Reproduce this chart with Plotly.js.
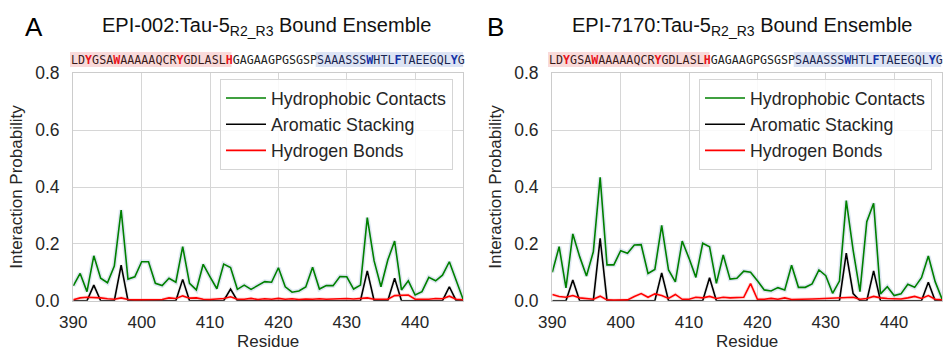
<!DOCTYPE html>
<html>
<head>
<meta charset="utf-8">
<script src="https://cdn.plot.ly/plotly-3.0.1.min.js"></script>
<style>html,body{margin:0;padding:0;background:#fff;}#chart{width:943px;height:351px;}</style>
</head>
<body>
<div id="chart"></div>
<script>
// ---------- data ----------
const residues = [390,391,392,393,394,395,396,397,398,399,400,401,402,403,404,405,406,407,408,409,
  410,411,412,413,414,415,416,417,418,419,420,421,422,423,424,425,426,427,428,429,
  430,431,432,433,434,435,436,437,438,439,440,441,442,443,444,445,446,447];

// Panel A: EPI-002
const hydroA = [0.052,0.096,0.032,0.158,0.079,0.063,0.122,0.319,0.076,0.084,0.137,0.137,0.061,0.053,0.079,0.065,0.190,0.061,0.038,0.128,
  0.084,0.042,0.129,0.117,0.040,0.055,0.040,0.055,0.067,0.065,0.116,0.049,0.030,0.034,0.048,0.118,0.041,0.053,0.053,0.085,
  0.084,0.041,0.055,0.292,0.140,0.049,0.143,0.210,0.038,0.070,0.020,0.032,0.082,0.070,0.090,0.137,0.073,0.006];
const aromA = [0,0,0,0.055,0,0,0,0.125,0,0,0,0,0,0,0,0,0.075,0,0,0,
  0,0,0,0.041,0,0,0,0,0,0,0,0,0,0,0,0,0,0,0,0,
  0,0,0,0.105,0,0,0,0.079,0,0,0,0,0,0,0,0.049,0,0];
const hbondA = [0.003,0.010,0.012,0.012,0.010,0.007,0.005,0.010,0.004,0.003,0.003,0.005,0.005,0.004,0.010,0.008,0.017,0.009,0.010,0.005,
  0.004,0.006,0.008,0.014,0.005,0.005,0.008,0.004,0.007,0.005,0.008,0.005,0.007,0.004,0.006,0.005,0.007,0.005,0.006,0.005,
  0.008,0.006,0.007,0.010,0.005,0.004,0.005,0.018,0.020,0.020,0.005,0.005,0.005,0.008,0.007,0.016,0.005,0.003];

// Panel B: EPI-7170
const hydroB = [0.100,0.190,0.045,0.235,0.155,0.087,0.172,0.434,0.126,0.126,0.176,0.167,0.196,0.197,0.096,0.110,0.265,0.108,0.066,0.210,
  0.149,0.082,0.202,0.190,0.061,0.161,0.076,0.079,0.104,0.100,0.070,0.038,0.034,0.046,0.038,0.125,0.047,0.047,0.059,0.108,
  0.088,0.026,0.069,0.352,0.178,0.032,0.278,0.343,0.024,0.049,0.018,0.024,0.058,0.047,0.081,0.157,0.067,0.006];
const aromB = [0,0,0,0.073,0,0,0,0.219,0,0,0,0,0,0,0,0,0.098,0,0,0,
  0,0,0,0.081,0,0,0,0,0,0,0,0,0,0,0,0,0,0,0,0,
  0,0,0,0.167,0.025,0,0,0.105,0,0,0,0,0,0,0,0.065,0,0];
const hbondB = [0.022,0.015,0.012,0.018,0.010,0.008,0.005,0.016,0.003,0.002,0.003,0.003,0.015,0.025,0.012,0.024,0.018,0.008,0.022,0.005,
  0.005,0.012,0.010,0.015,0.008,0.012,0.010,0.012,0.012,0.060,0.005,0.005,0.008,0.005,0.010,0.004,0.004,0.005,0.006,0.007,
  0.008,0.008,0.010,0.010,0.012,0.005,0.008,0.015,0.010,0.008,0.006,0.006,0.010,0.015,0.008,0.018,0.005,0.003];

const seriesNames = ["Hydrophobic Contacts","Aromatic Stacking","Hydrogen Bonds"];
const panelTitles = ["EPI-002:Tau-5<sub>R2_R3</sub> Bound Ensemble","EPI-7170:Tau-5<sub>R2_R3</sub> Bound Ensemble"];
const panelLetters = ["A","B"];
const sequence = "LDYGSAWAAAAAQCRYGDLASLHGAGAAGPGSGSPSAAASSSWHTLFTAEEGQLYG".split("");
const redHighlight = [2,6,15,22];
const blueHighlight = [42,46,54];
const pinkSegmentEnd = 23;   // index where the pink region ends
const blueSegmentStart = 35; // index where the blue region starts
const xTicks = [390,400,410,420,430,440];
const yTicks = [0.0,0.2,0.4,0.6,0.8];

// ---------- styling ----------
const W = 943, H = 351;
const colors = ["#008000","#000000","#ff0000"];
const shadow = ["rgba(176,196,222,0.40)","rgba(160,160,160,0.18)","rgba(255,150,150,0.30)"];
const txt = "#262626";
const FONT = "Liberation Sans, Arial, sans-serif";

const panels = [
  {xa:"x", ya:"y", xl:"xaxis", yl:"yaxis", leg:"legend", data:[hydroA,aromA,hbondA], px0:73.3, px1:463, title:266.5, letter:34, seq0:70, legR:453},
  {xa:"x2", ya:"y2", xl:"xaxis2", yl:"yaxis2", leg:"legend2", data:[hydroB,aromB,hbondB], px0:552.3, px1:942, title:742, letter:495, seq0:548, legR:932}
];
const yTop = 73.3, yBot = 300.7;

const traces = [];
const layout = {
  width: W, height: H,
  margin: {l:0, r:0, t:0, b:0},
  paper_bgcolor: "#fff", plot_bgcolor: "#fff",
  font: {family: FONT, color: txt, size: 17},
  showlegend: true,
  annotations: [], shapes: []
};

function seqText() {
  let s = "";
  sequence.forEach((c, i) => {
    let col;
    if (i < pinkSegmentEnd) col = redHighlight.includes(i) ? "#e8141c" : "#3a1a1a";
    else if (i < blueSegmentStart) col = "#222222";
    else col = blueHighlight.includes(i) ? "#1433a8" : "#1a2550";
    const hl = redHighlight.includes(i) || blueHighlight.includes(i);
    s += `<span style="color:${col}">${hl ? "<b>" + c + "</b>" : c}</span>`;
  });
  return s;
}
const charW = 7.02;

panels.forEach((p, k) => {
  // soft shading behind each line (uncertainty band look)
  p.data.forEach((arr, j) => {
    traces.push({x: residues, y: arr, xaxis: p.xa, yaxis: p.ya, mode: "lines",
      line: {color: shadow[j], width: j === 0 ? 4.5 : 3.5}, showlegend: false, hoverinfo: "skip"});
  });
  p.data.forEach((arr, j) => {
    traces.push({x: residues, y: arr, xaxis: p.xa, yaxis: p.ya, mode: "lines", name: seriesNames[j],
      legend: p.leg, line: {color: colors[j], width: 1.6}});
  });
  layout[p.xl] = {
    domain: [p.px0 / W, p.px1 / W], range: [390, 447], anchor: p.ya,
    tickmode: "array", tickvals: xTicks, ticktext: xTicks.map(String),
    showgrid: true, gridcolor: "#d6d6d6", gridwidth: 1,
    showline: true, mirror: true, linecolor: "#cccccc", linewidth: 1.3,
    zeroline: false, ticks: "", ticklabelstandoff: 6,
    tickfont: {size: 17, color: txt, family: FONT},
    title: {text: "Residue", font: {size: 17, color: txt, family: FONT}, standoff: 3}
  };
  layout[p.yl] = {
    domain: [1 - yBot / H, 1 - yTop / H], range: [0, 0.8], anchor: p.xa,
    tickmode: "array", tickvals: yTicks, ticktext: yTicks.map(v => v.toFixed(1)),
    showgrid: true, gridcolor: "#d6d6d6", gridwidth: 1,
    showline: true, mirror: true, linecolor: "#cccccc", linewidth: 1.3,
    zeroline: false, ticks: "", ticklabelstandoff: 9,
    tickfont: {size: 17.5, color: txt, family: FONT},
    title: {text: "Interaction Probability", font: {size: 17, color: txt, family: FONT}, standoff: 8}
  };
  layout[p.leg] = {
    x: p.legR / W, xanchor: "right", y: 1 - 79 / H, yanchor: "top",
    bgcolor: "rgba(255,255,255,0.85)", bordercolor: "#d5d5d5", borderwidth: 1,
    font: {size: 17.8, color: txt, family: FONT}, tracegroupgap: 0, itemwidth: 40
  };
  layout.annotations.push({xref: "paper", yref: "paper", x: p.title / W, y: 1 - 27 / H,
    xanchor: "center", yanchor: "middle", showarrow: false, text: panelTitles[k],
    font: {size: 20, color: "#111", family: FONT}});
  layout.annotations.push({xref: "paper", yref: "paper", x: p.letter / W, y: 1 - 27 / H,
    xanchor: "center", yanchor: "middle", showarrow: false, text: panelLetters[k],
    font: {size: 26, color: "#000", family: FONT}});
  layout.annotations.push({xref: "paper", yref: "paper", x: (p.seq0 - 1) / W, y: 1 - 59.5 / H,
    xanchor: "left", yanchor: "middle", showarrow: false, text: seqText(),
    font: {size: 11.66, family: "DejaVu Sans Mono, monospace"}});
  layout.shapes.push({type: "rect", xref: "paper", yref: "paper", layer: "below",
    x0: p.seq0 / W, x1: (p.seq0 + pinkSegmentEnd * charW) / W, y0: 1 - 67 / H, y1: 1 - 52 / H,
    fillcolor: "#f9dada", line: {width: 0}});
  layout.shapes.push({type: "rect", xref: "paper", yref: "paper", layer: "below",
    x0: (p.seq0 + blueSegmentStart * charW) / W, x1: Math.min(W, p.seq0 + sequence.length * charW) / W,
    y0: 1 - 67 / H, y1: 1 - 52 / H, fillcolor: "#dde4f4", line: {width: 0}});
});

Plotly.newPlot("chart", traces, layout, {displayModeBar: false, staticPlot: true});
</script>
</body>
</html>
